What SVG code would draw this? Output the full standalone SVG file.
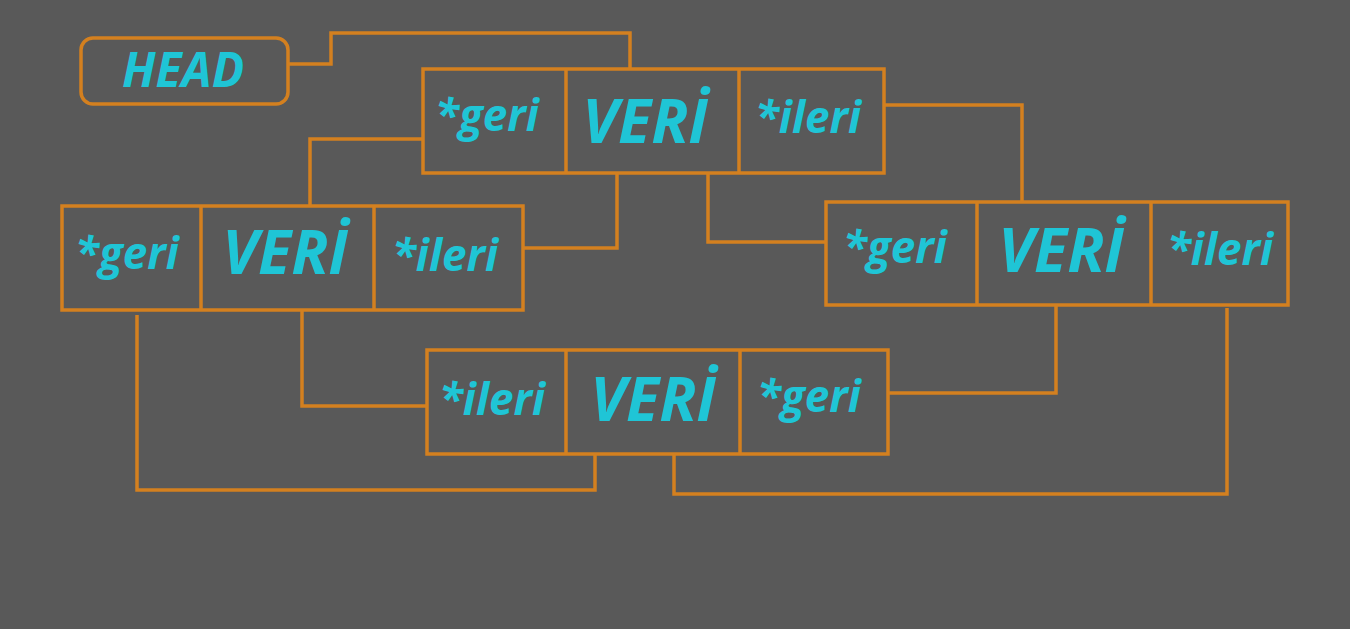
<svg xmlns="http://www.w3.org/2000/svg" width="1350" height="629" viewBox="0 0 1350 629">
<style>
.bx{fill:none;stroke:#d4801f;stroke-width:3.5}
.cn{fill:none;stroke:#d4801f;stroke-width:3.5;stroke-linejoin:miter}
.t{font-family:"Open Sans","Noto Sans",sans-serif;font-weight:bold;font-style:italic;fill:#1fc5d6;text-anchor:middle}
.s{font-size:44px}
.b{font-size:61px}
.h{font-size:48px}
</style>
<rect width="1350" height="629" fill="#595959"/>
<g id="head">
<rect class="bx" x="81" y="38" width="207" height="66" rx="12"/>
<text class="t h" x="183" y="87">HEAD</text>
</g>
<g id="node1">
<rect class="bx" x="423" y="69" width="461" height="104"/>
<line class="bx" x1="566" y1="69" x2="566" y2="173"/>
<line class="bx" x1="739" y1="69" x2="739" y2="173"/>
<text class="t s" x="487" y="131">*geri</text>
<text class="t b" x="645" y="143">VERİ</text>
<text class="t s" x="808" y="133">*ileri</text>
</g>
<g id="node2">
<rect class="bx" x="62" y="206" width="461" height="104"/>
<line class="bx" x1="201" y1="206" x2="201" y2="310"/>
<line class="bx" x1="374" y1="206" x2="374" y2="310"/>
<text class="t s" x="127" y="269">*geri</text>
<text class="t b" x="285" y="274">VERİ</text>
<text class="t s" x="445" y="271">*ileri</text>
</g>
<g id="node3">
<rect class="bx" x="826" y="202" width="462" height="103"/>
<line class="bx" x1="977" y1="202" x2="977" y2="305"/>
<line class="bx" x1="1151" y1="202" x2="1151" y2="305"/>
<text class="t s" x="895" y="263">*geri</text>
<text class="t b" x="1061" y="272">VERİ</text>
<text class="t s" x="1220" y="265">*ileri</text>
</g>
<g id="node4">
<rect class="bx" x="427" y="350" width="461" height="104"/>
<line class="bx" x1="566" y1="350" x2="566" y2="454"/>
<line class="bx" x1="740" y1="350" x2="740" y2="454"/>
<text class="t s" x="492" y="415">*ileri</text>
<text class="t b" x="653" y="421">VERİ</text>
<text class="t s" x="809" y="412">*geri</text>
</g>
<g id="connectors">
<polyline class="cn" points="288,64 331,64 331,33 630,33 630,69"/>
<polyline class="cn" points="423,139 310,139 310,206"/>
<polyline class="cn" points="617,173 617,248 523,248"/>
<polyline class="cn" points="708,173 708,242 826,242"/>
<polyline class="cn" points="884,105 1022,105 1022,202"/>
<polyline class="cn" points="302,310 302,406 427,406"/>
<polyline class="cn" points="137,315 137,490 595,490 595,454"/>
<polyline class="cn" points="1056,305 1056,393 888,393"/>
<polyline class="cn" points="1227,308 1227,494 674,494 674,454"/>
</g>
</svg>
